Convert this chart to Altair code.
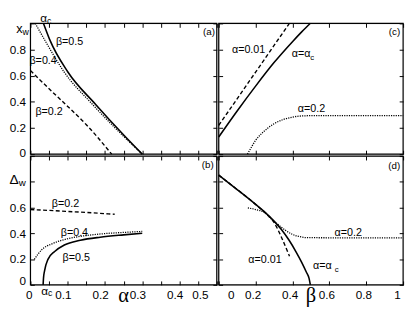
import altair as alt
import pandas as pd

# ---------------- values ----------------
# (a) x_w versus alpha
a_beta05_alpha = [0.035, 0.052, 0.10, 0.175, 0.249, 0.30]
a_beta05_xw = [1.00, 0.874, 0.63, 0.38, 0.15, 0.00]
a_beta04_alpha = [0.013, 0.045, 0.09, 0.165, 0.245, 0.30]
a_beta04_xw = [1.00, 0.84, 0.63, 0.385, 0.15, 0.00]
a_beta02_alpha = [0.0, 0.05, 0.10, 0.15, 0.218]
a_beta02_xw = [0.64, 0.50, 0.365, 0.225, 0.00]

# (b) Delta_w versus alpha
b_beta02_alpha = [0.0, 0.05, 0.10, 0.15, 0.20, 0.226]
b_beta02_dw = [0.585, 0.578, 0.570, 0.562, 0.553, 0.548]
b_beta04_alpha = [0.0105, 0.03, 0.06, 0.10, 0.15, 0.20, 0.25, 0.30]
b_beta04_dw = [0.198, 0.272, 0.321, 0.358, 0.383, 0.398, 0.407, 0.415]
b_beta05_alpha = [0.034, 0.035, 0.038, 0.047, 0.065, 0.091, 0.134, 0.187, 0.25, 0.30]
b_beta05_dw = [0.0, 0.05, 0.111, 0.198, 0.259, 0.309, 0.346, 0.370, 0.388, 0.40]

# (c) x_w versus beta
c_alpha001_beta = [0.0, 0.2, 0.383]
c_alpha001_xw = [0.22, 0.627, 1.0]
c_alphac_beta = [0.0, 0.1, 0.2, 0.3, 0.4, 0.45, 0.496]
c_alphac_xw = [0.131, 0.33, 0.52, 0.70, 0.86, 0.935, 1.0]
c_alpha02_beta = [0.156, 0.18, 0.2, 0.25, 0.3, 0.35, 0.4, 0.45, 0.5, 1.0]
c_alpha02_xw = [0.0, 0.06, 0.105, 0.18, 0.232, 0.265, 0.283, 0.292, 0.294, 0.294]

# (d) Delta_w versus beta
d_alphac_beta = [0.0, 0.1, 0.2, 0.25, 0.3, 0.34, 0.38, 0.42, 0.45, 0.475, 0.49, 0.497]
d_alphac_dw = [0.852, 0.74, 0.625, 0.565, 0.495, 0.43, 0.35, 0.255, 0.175, 0.10, 0.05, 0.0]
d_alpha001_beta = [0.0, 0.1, 0.2, 0.25, 0.3, 0.34, 0.384]
d_alpha001_dw = [0.852, 0.74, 0.625, 0.562, 0.485, 0.37, 0.222]
d_alpha02_beta = [0.158, 0.2, 0.25, 0.29, 0.32, 0.36, 0.40, 0.44, 0.48, 1.0]
d_alpha02_dw = [0.598, 0.585, 0.56, 0.505, 0.47, 0.425, 0.392, 0.374, 0.366, 0.365]

# tick values
alpha_ticks = [0.0, 0.05, 0.1, 0.15, 0.2, 0.25, 0.3, 0.35, 0.4, 0.45, 0.5]
beta_ticks = [0.0, 0.2, 0.4, 0.6, 0.8, 1.0]
y_ticks = [0.0, 0.2, 0.4, 0.6, 0.8, 1.0]

# annotation texts (text, x, y in data units)
a_curve_labels = [("β=0.5", 0.105, 0.854), ("β=0.4", 0.034, 0.708), ("β=0.2", 0.05, 0.321)]
b_curve_labels = [("β=0.2", 0.094, 0.63), ("β=0.4", 0.118, 0.40), ("β=0.5", 0.123, 0.207)]
c_curve_labels = [("α=0.01", 0.162, 0.796), ("α=0.2", 0.503, 0.343)]
d_curve_labels = [("α=0.2", 0.702, 0.40), ("α=0.01", 0.251, 0.193)]

# ---------------- chart ----------------
FONT = "Liberation Sans"
W_LEFT = 191
W_RIGHT = 189
H_TOP = 134
H_BOT = 132

STYLE = {
    "solid": dict(color="black", strokeWidth=1.6),
    "dashed": dict(color="black", strokeWidth=1.4, strokeDash=[4, 2.5]),
    "dotted": dict(color="black", strokeWidth=1.3, strokeDash=[1.2, 1.2]),
}


def enc(xsc, ysc, xaxis=None, yaxis=None):
    return dict(x=alt.X("x:Q", scale=xsc, axis=xaxis),
                y=alt.Y("y:Q", scale=ysc, axis=yaxis))


def line(xs, ys, style, xsc, ysc):
    df = pd.DataFrame({"x": xs, "y": ys})
    return alt.Chart(df).mark_line(interpolate="monotone", **STYLE[style]).encode(**enc(xsc, ysc))


def texts(rows, xsc, ysc, size, align="center", baseline="middle", dx=0, dy=0, font=FONT):
    df = pd.DataFrame(rows, columns=["t", "x", "y"])
    return alt.Chart(df).mark_text(font=font, fontSize=size, align=align, baseline=baseline,
                                   dx=dx, dy=dy, color="black").encode(text="t:N", **enc(xsc, ysc))


def ax(orient, values, **kw):
    base = dict(orient=orient, values=values, offset=-4, tickSize=4, tickWidth=1,
                tickColor="black", domain=False, grid=False, title=None,
                labelFont=FONT, labelFontSize=12, labelColor="black", labelOverlap=False)
    base.update(kw)
    if "labelExpr" not in kw:
        base["labels"] = False
    return alt.Axis(**base)


def frame(xdom, ydom, xsc, ysc, xb, yl, xt, yr):
    df = pd.DataFrame({"x": [xdom[0]], "x2": [xdom[1]], "y": [ydom[0]], "y2": [ydom[1]]})
    box = alt.Chart(df).mark_rect(fillOpacity=0, stroke="black", strokeWidth=1.2).encode(
        x=alt.X("x:Q", scale=xsc, axis=xb), x2="x2:Q",
        y=alt.Y("y:Q", scale=ysc, axis=yl), y2="y2:Q")
    other = alt.Chart(df).mark_point(opacity=0, size=1).encode(**enc(xsc, ysc, xt, yr))
    return [box, other]


def scales(xdom, ydom):
    return (alt.Scale(domain=xdom, nice=False, zero=False),
            alt.Scale(domain=ydom, nice=False, zero=False))


# ----- panel (a)
xs, ys = scales([0, 0.5], [0, 1])
pa = alt.layer(
    *frame([0, 0.5], [0, 1], xs, ys,
           ax("bottom", alpha_ticks),
           ax("left", y_ticks, labelExpr="datum.value >= 0.99 ? '' : format(datum.value, '.1~f')",
              labelPadding=5, labelOffset={"condition": {"test": "datum.value == 0", "value": -2}, "value": 0}),
           ax("top", alpha_ticks), ax("right", y_ticks)),
    line(a_beta02_alpha, a_beta02_xw, "dashed", xs, ys),
    line(a_beta04_alpha, a_beta04_xw, "dotted", xs, ys),
    line(a_beta05_alpha, a_beta05_xw, "solid", xs, ys),
    texts(a_curve_labels, xs, ys, 11),
    texts([("(a)", 0.495, 0.934)], xs, ys, 10, align="right"),
    texts([("α", 0.0445, 1.0)], xs, ys, 12, align="right", baseline="alphabetic", dy=-1),
    texts([("c", 0.0445, 1.0)], xs, ys, 9, align="left", baseline="alphabetic", dy=1),
    texts([("x", -0.021, 0.956)], xs, ys, 13, align="right"),
    texts([("w", -0.021, 0.956)], xs, ys, 9, align="left", dy=3),
).resolve_axis(x="independent", y="independent").properties(width=W_LEFT, height=H_TOP)

# ----- panel (b)
xs, ys = scales([0, 0.5], [0, 1])
pb = alt.layer(
    *frame([0, 0.5], [0, 1], xs, ys,
           ax("bottom", alpha_ticks,
              labelExpr="(round(datum.value*100) % 10 == 0) ? format(datum.value, '.1~f') : ''",
              labelPadding=5,
              labelOffset={"condition": {"test": "datum.value > 0.49", "value": -9}, "value": -5}),
           ax("left", y_ticks, labelExpr="datum.value >= 0.79 ? '' : format(datum.value, '.1~f')",
              labelPadding=5, labelOffset={"condition": {"test": "datum.value == 0", "value": -4}, "value": 0}),
           ax("top", alpha_ticks), ax("right", y_ticks)),
    line(b_beta02_alpha, b_beta02_dw, "dashed", xs, ys),
    line(b_beta04_alpha, b_beta04_dw, "dotted", xs, ys),
    line(b_beta05_alpha, b_beta05_dw, "solid", xs, ys),
    texts(b_curve_labels, xs, ys, 11),
    texts([("(b)", 0.492, 0.933)], xs, ys, 10, align="right"),
    texts([("α", 0.047, -0.045)], xs, ys, 12, align="right"),
    texts([("c", 0.047, -0.045)], xs, ys, 9, align="left", dy=3),
    texts([("Δ", -0.0314, 0.815)], xs, ys, 14, align="right"),
    texts([("w", -0.0314, 0.815)], xs, ys, 10, align="left", dy=3),
    texts([("α", 0.25, -0.13)], xs, ys, 21, baseline="alphabetic", font="Liberation Serif"),
).resolve_axis(x="independent", y="independent").properties(width=W_LEFT, height=H_BOT)

# ----- panel (c)
xs, ys = scales([0, 1], [0, 1])
pc = alt.layer(
    *frame([0, 1], [0, 1], xs, ys,
           ax("bottom", beta_ticks), ax("left", y_ticks),
           ax("top", beta_ticks), ax("right", y_ticks)),
    line(c_alpha001_beta, c_alpha001_xw, "dashed", xs, ys),
    line(c_alpha02_beta, c_alpha02_xw, "dotted", xs, ys),
    line(c_alphac_beta, c_alphac_xw, "solid", xs, ys),
    texts(c_curve_labels, xs, ys, 11),
    texts([("α=α", 0.497, 0.766)], xs, ys, 11, align="right"),
    texts([("c", 0.497, 0.766)], xs, ys, 8, align="left", dy=4),
    texts([("(c)", 0.984, 0.934)], xs, ys, 10, align="right"),
).resolve_axis(x="independent", y="independent").properties(width=W_RIGHT, height=H_TOP)

# ----- panel (d)
xs, ys = scales([0, 1], [0, 1])
pd_ = alt.layer(
    *frame([0, 1], [0, 1], xs, ys,
           ax("bottom", beta_ticks, labelExpr="format(datum.value, '.1~f')", labelPadding=5,
              labelOffset={"condition": {"test": "datum.value == 0", "value": 9}, "value": -3}),
           ax("left", y_ticks), ax("top", beta_ticks), ax("right", y_ticks)),
    line(d_alpha001_beta, d_alpha001_dw, "dashed", xs, ys),
    line(d_alpha02_beta, d_alpha02_dw, "dotted", xs, ys),
    line(d_alphac_beta, d_alphac_dw, "solid", xs, ys),
    texts(d_curve_labels, xs, ys, 11),
    texts([("α=α", 0.613, 0.148)], xs, ys, 11, align="right"),
    texts([("c", 0.613, 0.148)], xs, ys, 8, align="left", dx=3, dy=4),
    texts([("(d)", 0.984, 0.926)], xs, ys, 10, align="right"),
    texts([("β", 0.5, -0.13)], xs, ys, 21, baseline="alphabetic", font="Liberation Serif"),
).resolve_axis(x="independent", y="independent").properties(width=W_RIGHT, height=H_BOT)

chart = alt.concat(pa, pc, pb, pd_, columns=2, spacing=2, bounds="flush").configure_view(
    stroke="black", strokeWidth=1.2).configure(background="white").properties(padding=0)

chart.save("out.html", embed_options={"renderer": "svg", "actions": False})
